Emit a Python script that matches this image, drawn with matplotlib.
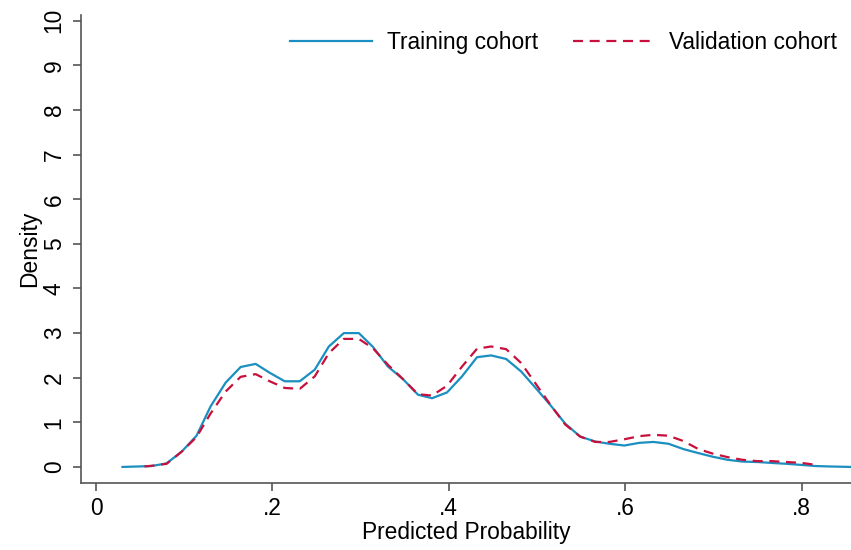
import matplotlib
matplotlib.use("Agg")
import matplotlib.pyplot as plt
from matplotlib import font_manager

names = {f.name for f in font_manager.fontManager.ttflist}
fam = "Liberation Sans Narrow" if "Liberation Sans Narrow" in names else "Liberation Sans"
plt.rcParams['font.family'] = [fam, 'DejaVu Sans']

# Training cohort density
train_x = [0.030, 0.047, 0.063, 0.080, 0.097, 0.114, 0.130, 0.147, 0.164, 0.181,
           0.197, 0.214, 0.231, 0.248, 0.264, 0.281, 0.298, 0.314, 0.331, 0.348,
           0.365, 0.381, 0.398, 0.415, 0.432, 0.448, 0.465, 0.482, 0.498, 0.515,
           0.532, 0.549, 0.566, 0.582, 0.599, 0.616, 0.632, 0.649, 0.666, 0.683,
           0.699, 0.716, 0.733, 0.750, 0.766, 0.783, 0.800, 0.816, 0.833, 0.856]
train_y = [0.00, 0.01, 0.02, 0.08, 0.34, 0.70, 1.36, 1.89, 2.24, 2.31,
           2.11, 1.92, 1.92, 2.18, 2.70, 3.00, 3.00, 2.69, 2.25, 1.97,
           1.62, 1.54, 1.67, 2.03, 2.46, 2.50, 2.42, 2.14, 1.78, 1.39,
           0.97, 0.68, 0.57, 0.52, 0.48, 0.54, 0.56, 0.52, 0.40, 0.31,
           0.23, 0.16, 0.12, 0.11, 0.09, 0.07, 0.045, 0.02, 0.01, 0.00]

# Validation cohort density
valid_x = [0.055, 0.065, 0.080, 0.097, 0.114, 0.130, 0.147, 0.164, 0.181, 0.197,
           0.214, 0.231, 0.248, 0.264, 0.281, 0.298, 0.314, 0.331, 0.348, 0.365,
           0.381, 0.398, 0.415, 0.432, 0.448, 0.465, 0.482, 0.498, 0.515, 0.532,
           0.549, 0.566, 0.582, 0.599, 0.616, 0.632, 0.649, 0.666, 0.683, 0.699,
           0.716, 0.733, 0.750, 0.766, 0.783, 0.800, 0.815]
valid_y = [0.01, 0.03, 0.07, 0.34, 0.67, 1.20, 1.69, 2.02, 2.08, 1.92,
           1.77, 1.75, 2.03, 2.55, 2.87, 2.87, 2.66, 2.29, 1.97, 1.63,
           1.60, 1.82, 2.25, 2.65, 2.70, 2.64, 2.33, 1.88, 1.40, 0.95,
           0.68, 0.56, 0.56, 0.62, 0.69, 0.72, 0.70, 0.58, 0.40, 0.30,
           0.22, 0.16, 0.13, 0.13, 0.11, 0.09, 0.05]

xticks = [0, 0.2, 0.4, 0.6, 0.8]
xticklabels = ["0", ".2", ".4", ".6", ".8"]
yticks = list(range(0, 11))

W, H = 851, 550
fig = plt.figure(figsize=(W / 100, H / 100), dpi=100)
ax = fig.add_axes([81 / W, 1 - 483 / H, 1 - 81 / W, (483 - 15) / H])

blue = "#1a8fc0"
red = "#c8103c"
ax.plot(train_x, train_y, color=blue, lw=1.6, label="Training cohort")
ax.plot(valid_x, valid_y, color=red, lw=1.6, ls=(0, (4.5, 3)), label="Validation cohort")

ax.set_xlim(-0.017, 0.856)
ax.set_ylim(-0.36, 10.13)
ax.set_xticks(xticks)
ax.set_xticklabels(xticklabels)
ax.set_yticks(yticks)
ax.set_yticklabels([str(t) for t in yticks], rotation=90, va="center")

FS = 16.4
for s in ["top", "right"]:
    ax.spines[s].set_visible(False)
for s in ["left", "bottom"]:
    ax.spines[s].set_color("#555555")
    ax.spines[s].set_linewidth(1.2)
ax.tick_params(axis="both", direction="out", length=6, width=1.2, color="#555555",
               labelsize=FS, labelcolor="black")
ax.tick_params(axis="y", pad=5)
ax.tick_params(axis="x", pad=4)

ax.set_xlabel("Predicted Probability", fontsize=FS, labelpad=1)
ax.set_ylabel("Density", fontsize=FS, labelpad=1.5)

leg = ax.legend(loc="upper right", ncol=2, frameon=False, fontsize=FS,
                handlelength=3.6, columnspacing=1.5, handletextpad=0.65,
                bbox_to_anchor=(1.0, 0.995), borderaxespad=0.2)

fig.savefig("out.png", dpi=100)
